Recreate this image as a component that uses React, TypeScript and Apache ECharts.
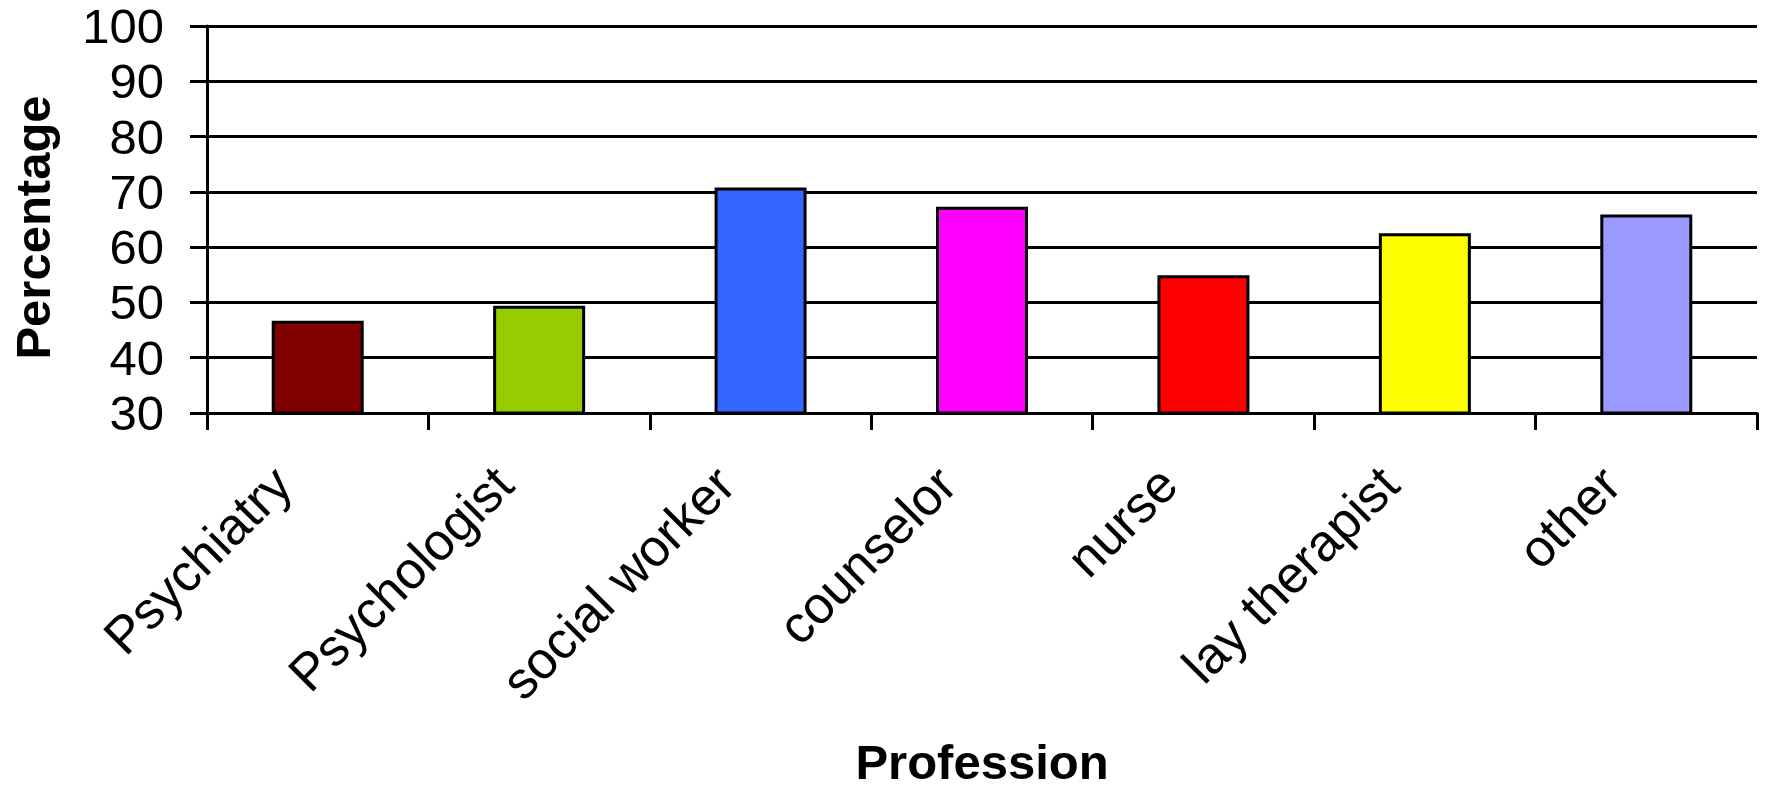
import React, { useEffect, useRef } from "react";
import * as echarts from "echarts";

const categories = [
  "Psychiatry",
  "Psychologist",
  "social worker",
  "counselor",
  "nurse",
  "lay therapist",
  "other",
];
const values = [46.7, 49.4, 70.8, 67.3, 54.9, 62.5, 65.9];
const barColors = [
  "#800000",
  "#99CC00",
  "#3366FF",
  "#FF00FF",
  "#FF0000",
  "#FFFF00",
  "#9999FF",
];
const yAxisTitle = "Percentage";
const xAxisTitle = "Profession";
const yMin = 30;
const yMax = 100;
const yStep = 10;

const FONT = "'Liberation Sans', Arial, sans-serif";

export default function App() {
  const ref = useRef<HTMLDivElement>(null);

  useEffect(() => {
    document.body.style.margin = "0";
    if (!ref.current) return;
    const chart = echarts.init(ref.current, null, { renderer: "svg" });
    chart.setOption({
      animation: false,
      backgroundColor: "#ffffff",
      grid: { left: 205, right: 14, top: 26, bottom: 372, containLabel: false },
      xAxis: {
        type: "category",
        data: categories,
        boundaryGap: true,
        name: xAxisTitle,
        nameLocation: "middle",
        nameGap: 324,
        nameTextStyle: {
          fontFamily: FONT,
          fontSize: 49,
          fontWeight: "bold",
          color: "#000",
        },
        axisLine: { show: true, lineStyle: { color: "#000", width: 3 } },
        axisTick: {
          show: true,
          length: 17,
          inside: false,
          alignWithLabel: false,
          lineStyle: { color: "#000", width: 3 },
        },
        axisLabel: {
          interval: 0,
          rotate: 45,
          margin: 27,
          padding: [0, 50, 0, 0],
          fontFamily: FONT,
          fontSize: 52,
          color: "#000",
        },
        splitLine: { show: false },
      },
      yAxis: {
        type: "value",
        min: yMin,
        max: yMax,
        interval: yStep,
        name: yAxisTitle,
        nameLocation: "middle",
        nameGap: 150,
        nameTextStyle: {
          fontFamily: FONT,
          fontSize: 49,
          fontWeight: "bold",
          color: "#000",
          padding: [0, 16, 0, 0],
        },
        axisLine: { show: true, lineStyle: { color: "#000", width: 3 } },
        axisTick: {
          show: true,
          length: 17,
          inside: false,
          lineStyle: { color: "#000", width: 3 },
        },
        axisLabel: {
          margin: 43,
          fontFamily: FONT,
          fontSize: 49,
          color: "#000",
        },
        splitLine: { show: true, lineStyle: { color: "#000", width: 3 } },
      },
      series: [
        {
          type: "bar",
          barWidth: 92,
          data: values.map((v, i) => ({
            value: v,
            itemStyle: {
              color: barColors[i],
              borderColor: "#000",
              borderWidth: 3,
            },
          })),
        },
      ],
    });
    return () => chart.dispose();
  }, []);

  return <div ref={ref} style={{ width: 1771, height: 787 }} />;
}
